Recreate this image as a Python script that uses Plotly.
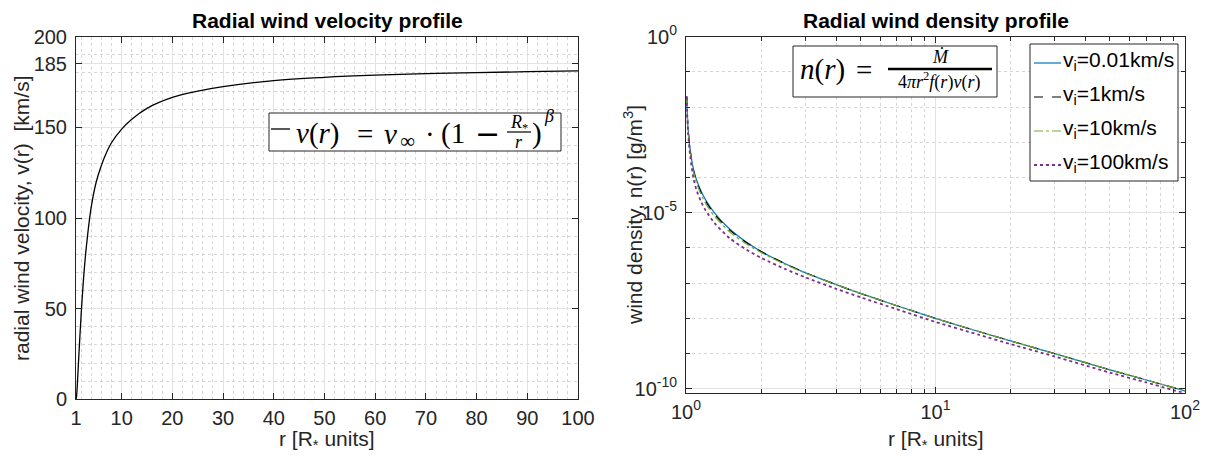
import numpy as np
import plotly.graph_objects as go

# ---------------- data ----------------
r_vel = [1, 1.1, 1.25, 1.5, 2, 2.5, 3, 4, 5, 6, 7, 8, 10, 12, 15, 20, 25, 30, 40, 50, 60, 70, 80, 90, 100]
v_vel = [0, 1.5, 7.5, 21, 46, 67, 83, 106, 120, 129, 136, 141.5, 149, 154.5, 160.5, 166.5, 170, 172.5,
         175.8, 177.6, 178.8, 179.6, 180.2, 180.7, 181.1]

r_den = [1.0064, 1.01, 1.02, 1.04, 1.07, 1.1, 1.15, 1.2, 1.3, 1.5, 1.75, 2.0, 2.5, 3.0, 4.0, 5.0,
         7.0, 10, 15, 20, 30, 50, 70, 100]
# log10 of the wind density for each initial velocity
logn_vi001 = [-1.70, -2.07, -2.64, -3.22, -3.74, -4.05, -4.39, -4.64, -5.00, -5.47, -5.84, -6.10,
              -6.45, -6.70, -7.04, -7.29, -7.64, -8.00, -8.38, -8.64, -9.00, -9.46, -9.75, -10.06]
logn_vi1 = [-1.70, -2.08, -2.66, -3.25, -3.78, -4.09, -4.43, -4.68, -5.04, -5.50, -5.85, -6.10,
            -6.45, -6.70, -7.04, -7.29, -7.64, -8.00, -8.38, -8.64, -9.00, -9.46, -9.75, -10.06]
logn_vi10 = [-1.70, -2.09, -2.68, -3.28, -3.82, -4.14, -4.49, -4.74, -5.10, -5.55, -5.89, -6.13,
             -6.47, -6.71, -7.04, -7.29, -7.64, -8.00, -8.38, -8.64, -9.00, -9.46, -9.75, -10.06]
logn_vi100 = [-1.70, -2.11, -2.76, -3.41, -4.00, -4.34, -4.69, -4.94, -5.29, -5.73, -6.05, -6.28,
              -6.60, -6.83, -7.16, -7.40, -7.74, -8.10, -8.47, -8.73, -9.08, -9.54, -9.82, -10.13]

series_names = ["v<sub>i</sub>=0.01km/s", "v<sub>i</sub>=1km/s", "v<sub>i</sub>=10km/s", "v<sub>i</sub>=100km/s"]

vel_xticks = [1, 10, 20, 30, 40, 50, 60, 70, 80, 90, 100]
vel_yticks = [0, 50, 100, 150, 185, 200]
den_xticks = [1, 10, 100]
den_xtext = ["10<sup>0</sup>", "10<sup>1</sup>", "10<sup>2</sup>"]
den_yticks = [1e-10, 1e-5, 1]
den_ytext = ["10<sup>-10</sup>", "10<sup>-5</sup>", "10<sup>0</sup>"]

# ---------------- page geometry ----------------
WIN_W, WIN_H = 1209, 459
OFF = 8                      # default body margin of the html page
W, H = WIN_W - OFF, WIN_H - OFF

TXT = "#262626"
GRID = "#e3e3e3"
MINOR = "#d6d6d6"
SANS = "Liberation Sans, Arial, sans-serif"
SERIF = "Liberation Serif, DejaVu Serif, serif"


def px(x):
    return (x - OFF) / W


def py(y):
    return 1 - (y - OFF) / H


fig = go.Figure()

fig.add_trace(go.Scatter(x=r_vel, y=v_vel, mode="lines", line=dict(color="black", width=1.3, shape="spline"),
                         xaxis="x", yaxis="y", showlegend=False))

styles = [
    dict(color="#0072BD", width=1.2, dash="solid"),
    dict(color="#000000", width=1.2, dash="dash"),
    dict(color="#77AC30", width=1.2, dash="dashdot"),
    dict(color="#7E2F8E", width=1.8, dash="dot"),
]
for name, logs, st in zip(series_names, [logn_vi001, logn_vi1, logn_vi10, logn_vi100], styles):
    fig.add_trace(go.Scatter(x=r_den, y=10 ** np.array(logs), mode="lines", name=name,
                             line=dict(shape="spline", smoothing=0.6, **st), xaxis="x2", yaxis="y2",
                             showlegend=False))

axis_common = dict(showline=True, linecolor=TXT, linewidth=1, mirror="ticks", ticks="inside",
                   ticklen=6, tickcolor=TXT, tickfont=dict(family=SANS, size=20, color=TXT),
                   showgrid=True, gridcolor=GRID, gridwidth=1, zeroline=False, automargin=False)

fig.update_layout(
    width=W, height=H, margin=dict(l=0, r=0, t=0, b=0),
    paper_bgcolor="white", plot_bgcolor="white",
    xaxis=dict(domain=[px(76), px(578)], range=[1, 100], tickmode="array", tickvals=vel_xticks,
               anchor="y", ticklabelstandoff=1,
               minor=dict(tickmode="linear", tick0=0, dtick=2, showgrid=True, gridcolor=MINOR,
                          griddash="dot", ticks=""), **axis_common),
    yaxis=dict(domain=[py(399.3), py(36.7)], range=[0, 200], tickmode="array", tickvals=vel_yticks,
               anchor="x", ticklabelstandoff=4,
               minor=dict(tickmode="linear", tick0=0, dtick=10, showgrid=True, gridcolor=MINOR,
                          griddash="dot", ticks=""), **axis_common),
    xaxis2=dict(domain=[px(686), px(1185)], type="log", range=[0, 2], tickmode="array",
                tickvals=den_xticks, ticktext=den_xtext, anchor="y2", ticklabelstandoff=1,
                minor=dict(dtick="D1", showgrid=True, gridcolor=MINOR, griddash="dot",
                           ticks="inside", ticklen=4, tickcolor=TXT), **axis_common),
    yaxis2=dict(domain=[py(392.7), py(36.7)], type="log", range=[-10.11, 0], tickmode="array",
                tickvals=den_yticks, ticktext=den_ytext, anchor="x2", ticklabelstandoff=4,
                minor=dict(tickmode="linear", tick0=0, dtick=1, showgrid=True, gridcolor=MINOR,
                           griddash="dot", ticks="inside", ticklen=4, tickcolor=TXT), **axis_common),
    showlegend=False,
)

ann = []


def text(t, x, y, size, family=SANS, color="black", xanchor="center", angle=0):
    ann.append(dict(text=t, x=px(x), y=py(y), xref="paper", yref="paper", xanchor=xanchor,
                    yanchor="middle", textangle=angle, showarrow=False, borderpad=0,
                    font=dict(family=family, size=size, color=color)))


# titles
text("<b>Radial wind velocity profile</b>", 327, 21, 21)
text("<b>Radial wind density profile</b>", 935.5, 21, 21)
# axis labels
text("r [R<sub>*</sub> units]", 327, 440, 21, color=TXT)
text("r [R<sub>*</sub> units]", 935.5, 440, 21, color=TXT)
text("radial wind velocity, v(r)  [km/s]", 22, 218, 21, color=TXT, angle=-90)
text("wind density, n(r) [g/m<sup>3</sup>]", 633, 215, 21, color=TXT, angle=-90)

# left equation box (legend-like), placed piece by piece
text("<i>v</i>(<i>r</i>)", 318, 134, 29, SERIF)
text("=", 365, 134, 29, SERIF)
text("<i>v</i>", 390, 134, 29, SERIF)
text("∞", 407, 141, 21, SERIF)
text("·", 430, 134, 29, SERIF)
text("(1", 453, 134, 29, SERIF)
text("−", 487, 134, 30, "DejaVu Serif, serif")
text("<i>R</i><sub>*</sub>", 519, 123, 18, SERIF)
text("<i>r</i>", 519, 142, 18, SERIF)
text(")", 537, 134, 29, SERIF)
text("<i>β</i>", 549, 116, 18, SERIF)

# right equation box
text("<i>n</i>(<i>r</i>)", 822, 70, 29, SERIF)
text("=", 864, 70, 29, SERIF)
text("<i>Ṁ</i>", 940, 57, 18, SERIF)
text("4<i>π</i><i>r</i><sup>2</sup><i>f</i>(<i>r</i>)<i>v</i>(<i>r</i>)", 939, 81, 18, SERIF)

shapes = [
    dict(type="rect", xref="paper", yref="paper", x0=px(269), x1=px(561), y0=py(151), y1=py(113),
         line=dict(color=TXT, width=1), fillcolor="white", layer="above"),
    dict(type="line", xref="paper", yref="paper", x0=px(271), x1=px(290), y0=py(129), y1=py(129),
         line=dict(color="black", width=1.3), layer="above"),
    dict(type="line", xref="paper", yref="paper", x0=px(507), x1=px(531), y0=py(132), y1=py(132),
         line=dict(color="black", width=1.2), layer="above"),
    dict(type="rect", xref="paper", yref="paper", x0=px(793), x1=px(997), y0=py(97), y1=py(46),
         line=dict(color=TXT, width=1), fillcolor="white", layer="above"),
    dict(type="line", xref="paper", yref="paper", x0=px(888), x1=px(992), y0=py(69), y1=py(69),
         line=dict(color="black", width=2.5), layer="above"),
    # legend box of the density panel
    dict(type="rect", xref="paper", yref="paper", x0=px(1030), x1=px(1178), y0=py(181), y1=py(44),
         line=dict(color=TXT, width=1), fillcolor="white", layer="above"),
]

legend_rows = [61, 95, 129, 163]
for name, st, yrow in zip(series_names, styles, legend_rows):
    shapes.append(dict(type="line", xref="paper", yref="paper", x0=px(1034), x1=px(1061),
                       y0=py(yrow + 2), y1=py(yrow + 2), layer="above",
                       line=dict(color=st["color"], width=st["width"], dash=st["dash"])))
    text(name, 1062, yrow, 21, xanchor="left")

fig.update_layout(annotations=ann, shapes=shapes)

fig.write_html("out.html")
